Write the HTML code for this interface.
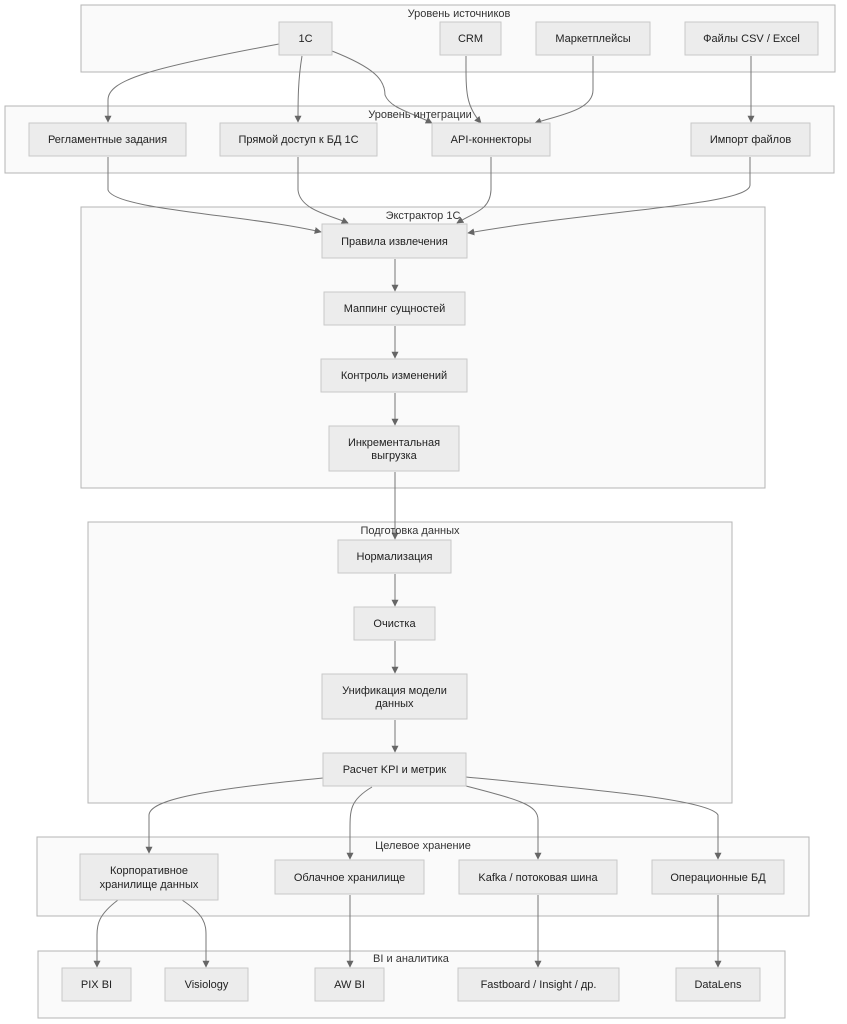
<!DOCTYPE html>
<html><head><meta charset="utf-8"><style>
html,body{margin:0;padding:0;background:#fff;}
svg{display:block;font-family:"Liberation Sans","DejaVu Sans",sans-serif;}
.c{fill:#fafafa;stroke:#b4b4b4;stroke-width:1;}
.n{fill:#ececec;stroke:#c8c8c8;stroke-width:1;}
.t{font-size:11px;fill:#222;text-anchor:middle;}
.ct{font-size:11px;fill:#333;text-anchor:middle;}
.e{fill:none;stroke:#777;stroke-width:1;marker-end:url(#a);}
</style></head><body>
<svg width="847" height="1024" viewBox="0 0 847 1024">
<defs><marker id="a" viewBox="0 0 10 10" refX="9" refY="5" markerWidth="7" markerHeight="7" orient="auto"><path d="M0,0L10,5L0,10z" fill="#666"/></marker></defs>

<rect class="c" x="81" y="5" width="754" height="67"/>
<rect class="c" x="5" y="106" width="829" height="67"/>
<rect class="c" x="81" y="207" width="684" height="281"/>
<rect class="c" x="88" y="522" width="644" height="281"/>
<rect class="c" x="37" y="837" width="772" height="79"/>
<rect class="c" x="38" y="951" width="747" height="67"/>

<!-- edges -->
<path class="e" d="M279,44 C150,68 108,80 108,100 L108,122"/>
<path class="e" d="M302,56 C298,80 298,100 298,122"/>
<path class="e" d="M332,51 C375,68 385,80 385,95 C390,108 410,112 432,123"/>
<path class="e" d="M466,56 C466,90 465,105 481,123"/>
<path class="e" d="M593,56 L593,90 C593,110 560,115 535,123"/>
<path class="e" d="M751,56 L751,122"/>
<path class="e" d="M108,157 L108,190 C115,210 250,215 321,232"/>
<path class="e" d="M298,157 L298,190 C300,210 330,215 348,223"/>
<path class="e" d="M491,157 L491,190 C490,210 475,212 457,223"/>
<path class="e" d="M750,157 L750,185 C750,205 600,210 468,233"/>
<path class="e" d="M395,259 L395,291"/>
<path class="e" d="M395,326 L395,358"/>
<path class="e" d="M395,393 L395,425"/>
<path class="e" d="M395,472 L395,539"/>
<path class="e" d="M395,574 L395,606"/>
<path class="e" d="M395,641 L395,673"/>
<path class="e" d="M395,720 L395,752"/>
<path class="e" d="M323,778 C200,790 150,800 149,815 L149,853"/>
<path class="e" d="M372,787 C350,800 350,810 350,830 L350,859"/>
<path class="e" d="M466,786 C520,800 538,805 538,820 L538,859"/>
<path class="e" d="M466,777 C600,790 710,800 718,815 L718,859"/>
<path class="e" d="M118,900 C98,915 97,925 97,935 L97,967"/>
<path class="e" d="M182,900 C205,915 206,925 206,935 L206,967"/>
<path class="e" d="M350,895 L350,967"/>
<path class="e" d="M538,895 L538,967"/>
<path class="e" d="M718,895 L718,967"/>

<!-- nodes -->
<g>
<rect class="n" x="279" y="22" width="53" height="33"/><text class="t" x="305.5" y="42">1C</text>
<rect class="n" x="440" y="22" width="61" height="33"/><text class="t" x="470.5" y="42">CRM</text>
<rect class="n" x="536" y="22" width="114" height="33"/><text class="t" x="593" y="42">Маркетплейсы</text>
<rect class="n" x="685" y="22" width="133" height="33"/><text class="t" x="751.5" y="42">Файлы CSV / Excel</text>
<rect class="n" x="29" y="123" width="157" height="33"/><text class="t" x="107.5" y="143">Регламентные задания</text>
<rect class="n" x="220" y="123" width="157" height="33"/><text class="t" x="298.5" y="143">Прямой доступ к БД 1С</text>
<rect class="n" x="432" y="123" width="118" height="33"/><text class="t" x="491" y="143">API-коннекторы</text>
<rect class="n" x="691" y="123" width="119" height="33"/><text class="t" x="750.5" y="143">Импорт файлов</text>
<rect class="n" x="322" y="224" width="145" height="34"/><text class="t" x="394.5" y="245">Правила извлечения</text>
<rect class="n" x="324" y="292" width="141" height="33"/><text class="t" x="394.5" y="312">Маппинг сущностей</text>
<rect class="n" x="321" y="359" width="146" height="33"/><text class="t" x="394" y="379">Контроль изменений</text>
<rect class="n" x="329" y="426" width="130" height="45"/><text class="t" x="394" y="446">Инкрементальная</text><text class="t" x="394" y="459">выгрузка</text>
<rect class="n" x="338" y="540" width="113" height="33"/><text class="t" x="394.5" y="560">Нормализация</text>
<rect class="n" x="354" y="607" width="81" height="33"/><text class="t" x="394.5" y="627">Очистка</text>
<rect class="n" x="322" y="674" width="145" height="45"/><text class="t" x="394.5" y="694">Унификация модели</text><text class="t" x="394.5" y="707">данных</text>
<rect class="n" x="323" y="753" width="143" height="33"/><text class="t" x="394.5" y="773">Расчет KPI и метрик</text>
<rect class="n" x="80" y="854" width="138" height="46"/><text class="t" x="149" y="874">Корпоративное</text><text class="t" x="149" y="888">хранилище данных</text>
<rect class="n" x="275" y="860" width="149" height="34"/><text class="t" x="349.5" y="881">Облачное хранилище</text>
<rect class="n" x="459" y="860" width="158" height="34"/><text class="t" x="538" y="881">Kafka / потоковая шина</text>
<rect class="n" x="652" y="860" width="132" height="34"/><text class="t" x="718" y="881">Операционные БД</text>
<rect class="n" x="62" y="968" width="69" height="33"/><text class="t" x="96.5" y="988">PIX BI</text>
<rect class="n" x="165" y="968" width="83" height="33"/><text class="t" x="206.5" y="988">Visiology</text>
<rect class="n" x="315" y="968" width="69" height="33"/><text class="t" x="349.5" y="988">AW BI</text>
<rect class="n" x="458" y="968" width="161" height="33"/><text class="t" x="538.5" y="988">Fastboard / Insight / др.</text>
<rect class="n" x="676" y="968" width="84" height="33"/><text class="t" x="718" y="988">DataLens</text>
</g>

<!-- cluster titles -->
<text class="ct" x="459" y="17">Уровень источников</text>
<text class="ct" x="420" y="118">Уровень интеграции</text>
<text class="ct" x="423" y="219">Экстрактор 1С</text>
<text class="ct" x="410" y="534">Подготовка данных</text>
<text class="ct" x="423" y="849">Целевое хранение</text>
<text class="ct" x="411" y="962">BI и аналитика</text>
</svg>
</body></html>
